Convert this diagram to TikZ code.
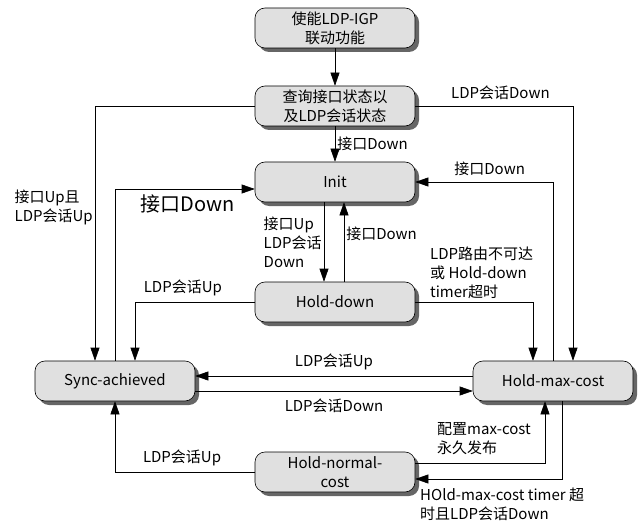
\documentclass[tikz,border=0pt]{standalone}
\usepackage{fontspec}
\setmainfont{Noto Sans CJK SC}
\usepackage{tikz}
\usetikzlibrary{calc}
\usetikzlibrary{positioning}
\usetikzlibrary{shadows}
\usetikzlibrary{arrows.meta}
\usepackage{xcolor}

\begin{document}
\begin{tikzpicture}[
		x=1pt, y=-1pt,
		st/.style = {rectangle, rounded corners=10pt, draw=black, fill=black!12, semithick,
			minimum width=160pt, minimum height=40pt, align=center, font=\fontsize{15}{19}\selectfont,
			drop shadow={shadow xshift=4pt, shadow yshift=-4pt, fill=black!60, opacity=1}},
		r/.style = {-{Triangle[length=13pt, width=9pt]}, semithick},
		lb/.style = {font=\fontsize{15}{19}\selectfont, inner sep=2pt}
		]
		\useasboundingbox (0,0) rectangle (640,532);
		
		%Nodes
		\node[st]	(en)	at	(335, 28)	{使能LDP-IGP\\联动功能};
		\node[st]	(q)	at	(335, 106)	{查询接口状态以\\及LDP会话状态};
		\node[st]	(init)	at	(335, 182)	{Init};
		\node[st]	(hd)	at	(335, 302)	{Hold-down};
		\node[st]	(sync)	at	(115, 381)	{Sync-achieved};
		\node[st]	(hmc)	at	(553, 381)	{Hold-max-cost};
		\node[st]	(hnc)	at	(335, 472)	{Hold-normal-\\cost};
		
		%Lines
		\draw[r]	(en)	--	(q);
		\draw[r]	(q)	--	node[lb, right]	{接口Down}	(init);
		\draw[r]	(q.west)	-|	node[lb, left, pos=.7, align=left]	{接口Up且\\LDP会话Up}	([xshift=-20pt]sync.north);
		\draw[r]	(q.east)	-|	node[lb, above=4pt, pos=.27]	{LDP会话Down}	([xshift=20pt]hmc.north);
		\draw[r]	(sync.north)	|-	node[below=2pt, pos=.76, font=\fontsize{20}{24}\selectfont]	{接口Down}	([yshift=-7pt]init.west);
		\draw[r]	(hmc.north)	|-	node[lb, above=4pt, pos=.73]	{接口Down}	(init.east);
		\draw[r]	([xshift=-11pt]init.south)	--	node[lb, left, align=left]	{接口Up\\LDP会话\\Down}	([xshift=-11pt]hd.north);
		\draw[r]	([xshift=9pt]hd.north)	--	node[lb, right, pos=.6]	{接口Down}	([xshift=9pt]init.south);
		\draw[r]	(hd.west)	-|	node[lb, above=4pt, pos=.3]	{LDP会话Up}	([xshift=20pt]sync.north);
		\draw[r]	(hd.east)	-|	([xshift=-20pt]hmc.north);
		\draw[r]	([yshift=5pt]hmc.west)	--	node[lb, above=4pt]	{LDP会话Up}	([yshift=5pt]sync.east);
		\draw[r]	([yshift=-10pt]sync.east)	--	node[lb, below=6pt]	{LDP会话Down}	([yshift=-10pt]hmc.west);
		\draw[r]	(hnc.west)	-|	node[lb, above=4pt, pos=.26]	{LDP会话Up}	(sync.south);
		\draw[r]	([yshift=9pt]hnc.east)	-|	([xshift=-8pt]hmc.south);
		\draw[r]	([xshift=9pt]hmc.south)	|-	([yshift=-7pt]hnc.east);
		
		%Labels
		\node[lb, anchor=west, align=left]	(l1)	at	(428, 273)	{LDP路由不可达\\或 Hold-down\\timer超时};
		\node[lb, anchor=west, align=left]	(l2)	at	(435, 439)	{配置max-cost\\永久发布};
		\node[lb, anchor=west, align=left]	(l3)	at	(418, 504)	{HOld-max-cost timer 超\\时且LDP会话Down};
	\end{tikzpicture}
\end{document}
